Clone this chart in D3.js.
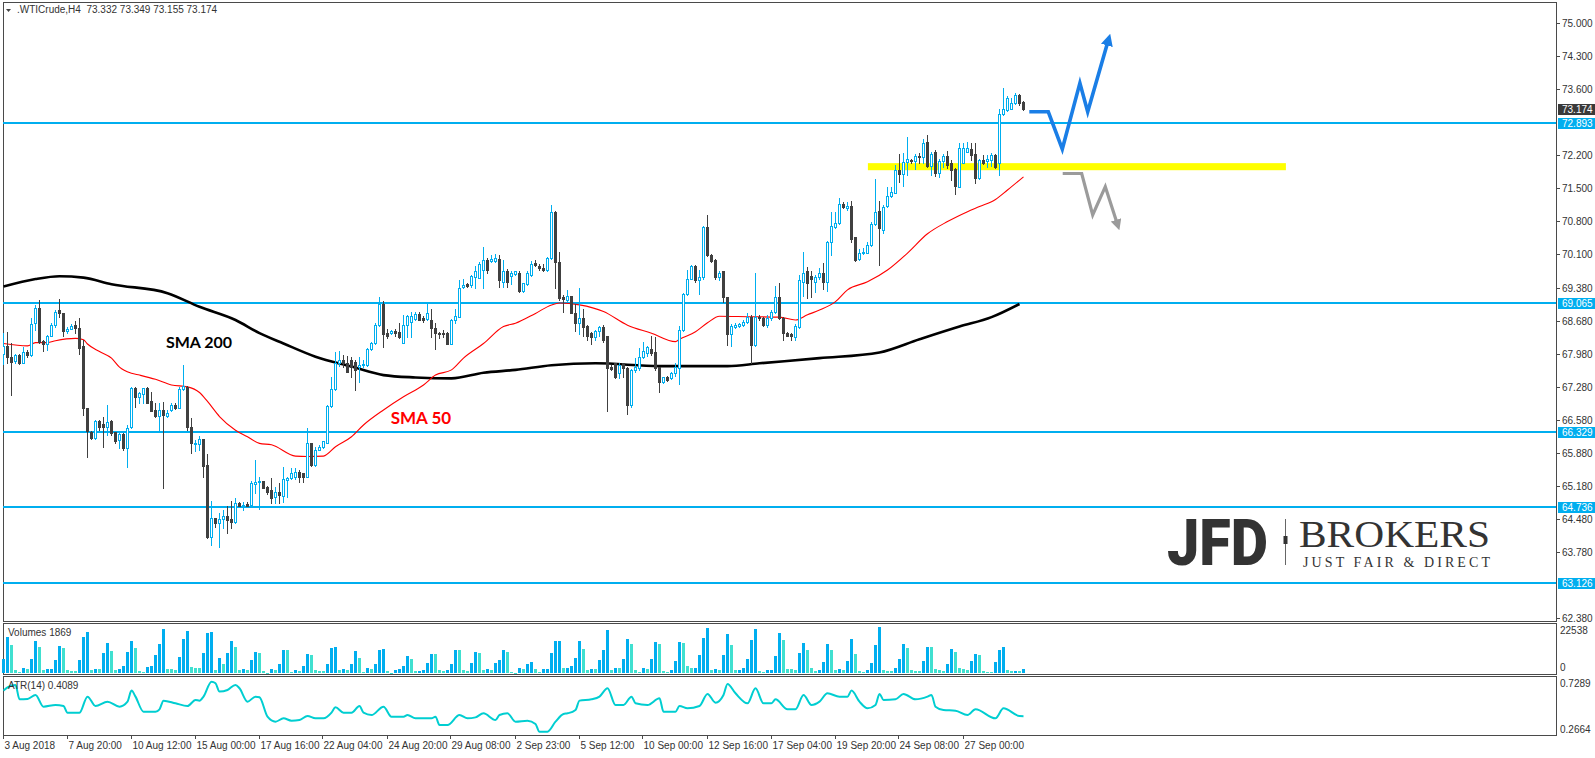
<!DOCTYPE html>
<html>
<head>
<meta charset="utf-8">
<script src="https://cdn.jsdelivr.net/npm/d3@7"></script>
<style>
  html, body { margin: 0; padding: 0; background: #fff; }
  svg { display: block; }
</style>
</head>
<body>
<svg id="chart" width="1595" height="758" font-family="'Liberation Sans', Arial, sans-serif"></svg>
<script>
// WTI Crude H4, 3 Aug - 28 Sep 2018

const symbol = ".WTICrude,H4";

// one row per H4 bar: open, high, low, close
const ohlc = [
  [67.98,68.42,67.77,68.15],[68.15,68.45,67.79,67.92],[67.92,68.21,67.11,67.81],[67.82,67.98,67.79,67.96],
  [67.96,67.98,67.77,67.79],[67.79,68.13,67.78,68.03],[68.01,68.06,67.92,67.96],[67.96,68.74,67.93,68.61],
  [68.63,69.02,68.49,68.95],[68.95,69.12,68.21,68.24],[68.25,68.28,68.05,68.19],[68.19,68.38,68.06,68.36],
  [68.36,68.64,68.35,68.59],[68.59,68.91,68.56,68.88],[68.91,69.14,68.77,68.84],[68.84,68.85,68.35,68.47],
  [68.47,68.56,68.42,68.51],[68.50,68.61,68.50,68.57],[68.59,68.68,68.42,68.52],[68.52,68.75,67.98,68.11],
  [68.15,68.28,66.68,66.83],[66.84,66.84,65.80,66.34],[66.33,66.35,66.17,66.19],[66.19,66.58,66.17,66.56],
  [66.56,66.58,66.36,66.43],[66.49,66.65,66.01,66.43],[66.43,66.89,66.26,66.54],[66.56,66.58,66.26,66.29],
  [66.33,66.33,66.08,66.12],[66.15,66.29,65.98,66.28],[66.28,66.29,65.94,65.98],[65.98,66.47,65.57,66.40],
  [66.42,67.27,66.40,67.25],[67.25,67.27,66.85,67.06],[67.06,67.17,66.93,67.14],[67.13,67.26,66.93,67.25],
  [67.25,67.27,66.93,66.94],[66.97,67.18,66.77,66.77],[66.79,66.93,66.65,66.66],[66.67,66.93,66.35,66.79],
  [66.79,66.96,65.14,66.68],[66.67,66.79,66.65,66.73],[66.79,66.94,66.77,66.89],[66.89,66.93,66.80,66.84],
  [66.84,67.28,66.83,67.23],[67.23,67.74,67.21,67.30],[67.28,67.30,66.36,66.43],[66.43,66.61,65.87,66.08],
  [66.07,66.15,65.92,66.09],[66.07,66.24,65.95,66.17],[66.17,66.17,65.37,65.60],[65.62,65.85,64.08,64.10],
  [64.10,64.86,63.92,64.50],[64.49,64.49,64.31,64.38],[64.38,64.60,63.89,64.47],[64.47,64.67,64.28,64.54],
  [64.54,64.74,64.18,64.45],[64.48,64.86,64.28,64.42],[64.42,64.91,64.40,64.81],[64.81,64.84,64.74,64.74],
  [64.74,64.84,64.67,64.77],[64.79,64.84,64.74,64.74],[64.77,65.29,64.75,65.23],[65.22,65.73,65.02,65.27],
  [65.25,65.36,64.68,65.28],[65.28,65.28,65.13,65.14],[65.15,65.17,65.01,65.05],[65.10,65.34,64.81,64.91],
  [64.95,65.16,64.81,65.05],[65.05,65.23,64.81,64.98],[64.96,65.57,64.84,65.32],[65.30,65.37,64.95,65.35],
  [65.34,65.55,65.32,65.46],[65.36,65.55,65.32,65.48],[65.48,65.52,65.25,65.36],[65.45,65.46,65.25,65.36],
  [65.37,66.40,65.37,66.09],[66.09,66.09,65.60,65.62],[65.62,66.01,65.60,65.95],[65.95,66.05,65.94,66.01],
  [66.01,66.14,65.98,66.12],[66.09,66.89,66.08,66.87],[66.87,67.50,66.86,67.23],[67.23,68.03,67.21,67.79],
  [67.78,68.04,67.72,67.85],[67.86,67.96,67.71,67.78],[67.78,67.94,67.60,67.60],[67.84,67.92,67.50,67.71],
  [67.81,67.85,67.21,67.64],[67.71,67.92,67.39,67.74],[67.74,67.85,67.71,67.77],[67.74,68.10,67.72,68.08],
  [68.08,68.24,68.06,68.21],[68.21,68.63,68.19,68.59],[68.59,69.18,68.57,69.05],[69.05,69.11,68.12,68.40],
  [68.42,68.50,68.31,68.37],[68.42,68.49,68.40,68.47],[68.47,68.50,68.36,68.42],[68.45,68.63,68.31,68.33],
  [68.22,68.81,68.21,68.59],[68.59,68.81,68.34,68.78],[68.66,68.88,68.34,68.78],[68.72,68.88,68.70,68.83],
  [68.83,68.88,68.69,68.70],[68.74,68.78,68.66,68.69],[68.72,69.05,68.70,68.85],[68.69,68.93,68.34,68.54],
  [68.54,68.63,68.08,68.42],[68.43,68.45,68.31,68.40],[68.43,68.49,68.34,68.40],[68.43,68.45,68.18,68.19],
  [68.19,68.72,68.18,68.69],[68.69,68.93,68.63,68.78],[68.77,69.55,68.76,69.37],[69.39,69.56,69.37,69.44],
  [69.46,69.49,69.41,69.42],[69.44,69.66,69.41,69.63],[69.61,69.85,69.37,69.75],[69.60,69.93,69.59,69.89],
  [69.76,70.26,69.37,69.97],[69.97,70.01,69.69,69.76],[69.96,70.08,69.94,69.99],[69.96,70.10,69.94,70.01],
  [69.99,70.08,69.39,69.55],[69.51,69.97,69.41,69.75],[69.75,69.78,69.39,69.51],[69.63,69.73,69.46,69.69],
  [69.68,69.75,69.66,69.73],[69.69,69.73,69.30,69.32],[69.32,69.49,69.30,69.48],[69.46,69.75,69.44,69.69],
  [69.66,69.96,69.63,69.89],[69.92,69.97,69.85,69.87],[69.85,69.89,69.76,69.80],[69.80,69.89,69.73,69.76],
  [69.76,70.04,69.75,70.01],[70.01,71.14,69.99,71.00],[71.00,71.02,69.37,69.94],[69.94,70.15,69.12,69.16],
  [69.18,69.23,68.88,69.14],[69.12,69.34,69.11,69.21],[69.21,69.21,68.84,68.85],[68.85,69.05,68.47,68.64],
  [68.64,69.37,68.40,68.74],[68.74,68.93,68.36,68.56],[68.57,68.59,68.28,68.35],[68.42,68.45,68.19,68.33],
  [68.33,68.49,68.28,68.47],[68.47,68.57,68.35,68.56],[68.56,68.59,68.24,68.28],[68.36,68.36,66.77,67.67],
  [67.71,67.74,67.64,67.66],[67.78,67.79,67.46,67.50],[67.57,67.78,67.46,67.74],[67.78,67.79,67.48,67.67],
  [67.67,67.70,66.70,66.89],[66.89,67.66,66.86,67.64],[67.64,67.89,67.60,67.70],[67.67,68.10,67.64,67.92],
  [67.91,68.24,67.89,68.05],[67.99,68.15,67.93,68.12],[68.08,68.36,67.96,67.99],[68.01,68.33,67.64,67.67],
  [67.70,67.70,67.18,67.39],[67.39,67.50,67.37,67.48],[67.48,67.51,67.41,67.43],[67.46,67.60,67.44,67.58],
  [67.57,67.79,67.51,67.70],[67.67,68.57,67.34,68.49],[68.49,69.27,68.47,69.25],[69.25,69.76,69.23,69.58],
  [69.58,69.87,69.56,69.85],[69.85,69.87,69.51,69.54],[69.54,69.76,69.25,69.61],[69.61,70.70,69.58,70.68],
  [70.68,70.93,70.06,70.08],[70.08,70.10,69.94,69.96],[69.97,69.99,69.58,69.61],[69.62,69.73,69.55,69.69],
  [69.73,69.73,69.09,69.18],[69.18,69.19,68.17,68.40],[68.40,68.61,68.14,68.57],[68.56,68.64,68.54,68.59],
  [68.57,68.64,68.56,68.61],[68.59,68.69,68.57,68.66],[68.66,68.84,68.63,68.77],[68.77,68.81,67.78,68.17],
  [68.17,69.70,68.15,68.76],[68.77,68.81,68.70,68.74],[68.74,68.77,68.57,68.59],[68.59,68.81,68.56,68.74],
  [68.74,68.91,68.69,68.88],[68.88,69.42,68.85,69.18],[69.18,69.48,68.72,68.74],[68.74,68.77,68.28,68.43],
  [68.43,68.45,68.35,68.36],[68.40,68.42,68.28,68.35],[68.33,68.61,68.28,68.57],[68.56,69.66,68.54,69.54],
  [69.51,70.15,69.21,69.70],[69.73,69.82,69.16,69.49],[69.63,69.73,69.19,69.58],[69.51,69.66,69.30,69.62],
  [69.61,69.80,69.58,69.70],[69.70,69.92,69.35,69.51],[69.51,70.38,69.32,70.36],[70.36,71.00,70.08,70.70],
  [70.68,71.00,70.66,70.75],[70.75,71.28,70.74,71.16],[71.16,71.21,71.07,71.09],[71.08,71.21,71.04,71.12],
  [71.12,71.23,70.36,70.43],[70.46,70.47,69.96,69.97],[69.99,70.20,69.97,70.13],[70.12,70.22,70.10,70.15],
  [70.13,70.36,70.12,70.30],[70.30,70.79,70.27,70.74],[70.74,71.69,70.72,71.00],[71.01,71.23,69.87,70.65],
  [70.62,71.14,70.55,71.09],[71.11,71.52,71.09,71.33],[71.33,71.53,71.32,71.42],[71.40,71.99,71.39,71.88],
  [71.88,72.22,71.64,71.81],[71.81,72.24,71.54,72.06],[72.06,72.58,71.78,72.11],[72.10,72.11,72.04,72.08],
  [72.08,72.22,71.90,72.18],[72.18,72.25,72.03,72.15],[72.15,72.54,72.03,72.46],[72.48,72.63,71.94,71.97],
  [71.97,72.27,71.78,72.22],[72.27,72.31,71.76,71.83],[71.83,72.11,71.74,72.08],[72.08,72.22,71.94,72.18],
  [72.18,72.29,71.92,71.99],[72.03,72.10,71.67,71.88],[71.90,71.92,71.37,71.54],[71.53,72.45,71.52,72.35],
  [72.04,72.46,72.03,72.35],[72.27,72.48,72.26,72.35],[72.34,72.46,72.10,72.20],[72.22,72.46,71.60,71.71],
  [71.71,72.11,71.69,72.10],[72.10,72.20,72.01,72.03],[72.08,72.20,71.94,72.11],[72.10,72.24,71.97,72.20],
  [72.20,72.22,71.92,71.94],[72.04,73.19,71.78,73.07],[73.07,73.62,73.05,73.19],[73.16,73.46,73.14,73.41],
  [73.19,73.41,73.17,73.31],[73.31,73.53,73.29,73.48],[73.48,73.50,73.26,73.31],[73.332,73.349,73.155,73.174]
];

// tick volume per bar
const volumes = [
  7000,17300,13500,1300,500,2300,1800,7000,15500,12600,1300,1800,2100,6500,13000,12100,
  1300,1200,1100,6200,17400,19900,1300,1800,1700,9800,14500,10600,1300,1800,3300,10100,
  15500,12100,1000,500,2800,3300,8600,14000,21400,1800,1700,1600,7700,16500,20400,2800,
  2300,2200,9800,19400,19900,1300,7200,4400,9800,15500,12600,1300,1800,1300,6200,10100,
  9500,800,100,1800,1300,4200,11100,11000,500,1300,1200,3300,9100,8600,1300,1200,
  1100,4600,12100,12600,1300,1800,1300,4200,10600,7200,700,2300,1800,4200,11100,11600,
  800,100,1300,1800,3300,8200,6700,800,900,1300,4700,9100,9000,1300,800,1300,
  4200,11100,11000,1300,1200,4700,10100,9600,1300,1800,1300,4700,6200,11100,10100,500,
  100,2300,1800,4200,5200,1800,300,1800,1900,9600,15500,15600,2300,2400,3300,7200,
  15500,11600,1300,1800,1700,6200,11100,20900,1300,2300,2200,6700,16500,14000,1300,300,
  2300,1800,6700,15000,14000,800,700,1300,5700,15000,14500,3300,2300,2400,8600,17000,
  21800,1300,1800,1300,8600,18900,13500,1300,1400,2300,6700,16000,21400,800,300,1300,
  1400,8200,19400,16000,1800,1700,1600,9600,14500,11100,2300,800,1300,5200,14000,11100,
  1300,1800,1300,5700,16500,9100,800,700,1300,4700,13500,22300,1300,1200,1100,2300,
  6700,14000,12100,1300,1200,1100,5700,12600,12500,1800,1300,1200,4200,11600,10100,2300,
  1800,1300,5700,9100,8600,800,700,600,5200,11100,12600,1300,800,900,800,1869
];

// ATR(14) readings: [bar, value]
const atr = [
  [0,0.638],[1,0.668],[3,0.689],[4,0.560],[6,0.563],[8,0.599],[10,0.494],[13,0.509],[15,0.500],
  [16,0.440],[19,0.440],[21,0.584],[23,0.500],[26,0.539],[29,0.494],[31,0.539],[32,0.638],[33,0.584],
  [35,0.449],[38,0.449],[39,0.470],[40,0.548],[43,0.524],[46,0.500],[48,0.554],[49,0.548],[50,0.584],
  [52,0.718],[53,0.704],[54,0.629],[56,0.644],[58,0.689],[59,0.659],[61,0.539],[63,0.584],[64,0.578],
  [66,0.404],[68,0.359],[70,0.389],[72,0.368],[74,0.374],[76,0.410],[78,0.389],[80,0.389],[82,0.440],
  [83,0.488],[85,0.440],[87,0.440],[89,0.500],[90,0.440],[92,0.419],[95,0.494],[97,0.404],[100,0.404],
  [101,0.419],[103,0.389],[107,0.389],[108,0.404],[109,0.329],[111,0.329],[114,0.419],[116,0.389],
  [118,0.398],[120,0.434],[123,0.374],[124,0.419],[126,0.434],[128,0.359],[131,0.368],[133,0.338],
  [134,0.269],[136,0.269],[138,0.359],[140,0.428],[141,0.434],[143,0.464],[144,0.548],[147,0.560],
  [149,0.584],[151,0.659],[153,0.509],[155,0.509],[157,0.584],[158,0.524],[161,0.509],[164,0.569],
  [165,0.449],[168,0.449],[169,0.500],[171,0.479],[174,0.500],[176,0.608],[178,0.530],[180,0.599],
  [181,0.698],[183,0.614],[186,0.524],[188,0.659],[190,0.524],[192,0.524],[193,0.560],[196,0.470],
  [198,0.470],[200,0.599],[202,0.509],[204,0.539],[206,0.614],[209,0.584],[211,0.584],[212,0.638],
  [214,0.539],[216,0.479],[218,0.509],[219,0.608],[220,0.554],[223,0.560],[225,0.608],[228,0.560],
  [231,0.584],[232,0.599],[233,0.494],[235,0.464],[238,0.458],[241,0.419],[243,0.470],[248,0.389],
  [250,0.479],[254,0.410],[255,0.4089]
];

// moving averages: [bar, price]
const sma50 = [
  [0,68.20],[6,68.15],[8,68.22],[11,68.22],[13,68.26],[18,68.31],[20,68.28],[21,68.19],[24,68.03],
  [27,67.89],[29,67.70],[32,67.57],[34,67.53],[38,67.44],[42,67.32],[46,67.28],[49,67.16],[51,66.97],
  [54,66.65],[58,66.36],[61,66.22],[64,66.08],[67,66.05],[73,65.81],[76,65.80],[80,65.81],[83,66.01],
  [87,66.22],[90,66.47],[95,66.79],[100,67.07],[105,67.32],[108,67.53],[112,67.64],[115,67.89],
  [120,68.20],[125,68.56],[128,68.63],[133,68.84],[137,69.02],[139,69.06],[144,69.02],[150,68.88],
  [156,68.59],[162,68.42],[168,68.24],[169,68.29],[173,68.45],[176,68.64],[179,68.78],[186,68.77],
  [194,68.76],[198,68.70],[201,68.81],[204,68.91],[208,69.09],[211,69.34],[216,69.51],[221,69.76],
  [226,70.12],[231,70.53],[236,70.79],[241,71.00],[244,71.11],[248,71.26],[251,71.46],[255,71.74]
];
const sma200 = [
  [0,69.41],[8,69.57],[14,69.63],[20,69.60],[27,69.46],[41,69.27],[49,68.98],[58,68.70],[64,68.42],
  [70,68.20],[78,67.92],[87,67.71],[95,67.53],[103,67.48],[112,67.46],[120,67.58],[128,67.64],
  [137,67.74],[148,67.78],[164,67.72],[181,67.72],[189,67.78],[204,67.89],[219,68.01],[229,68.29],
  [239,68.56],[247,68.76],[254,69.04]
];

// horizontal support / resistance levels
const levels = [72.893, 69.065, 66.329, 64.736, 63.126];

// price axis labels as printed by the terminal
const priceTicks = ["75.000","74.300","73.600","72.200","71.500","70.800","70.100","69.380",
  "68.680","67.980","67.280","66.580","65.880","65.180","64.480","63.780","62.380"];

// time axis: label every 16 bars
const dateTicks = [0,16,32,48,64,80,96,112,128,144,160,176,192,208,224,240];
const dateLabels = ["3 Aug 2018","7 Aug 20:00","10 Aug 12:00","15 Aug 00:00","17 Aug 16:00",
  "22 Aug 04:00","24 Aug 20:00","29 Aug 08:00","2 Sep 23:00","5 Sep 12:00","10 Sep 00:00",
  "12 Sep 16:00","17 Sep 04:00","19 Sep 20:00","24 Sep 08:00","27 Sep 00:00"];

// drawn scenarios: [bar, price]
const zone = { bars: [216.1, 320.6], prices: [71.88, 72.03] };
const bullPath = [[256.45,73.12],[261.2,73.12],[264.7,72.33],[269.1,73.73],[271.05,73.12],[276,74.58]];
const bearPath = [[264.8,71.81],[269.55,71.81],[272.3,70.93],[275.45,71.53],[278.3,70.78]];

// ---------------------------------------------------------------
const svg = d3.select("#chart");
const W = 1595;
const left = 3, right = 1556;
const main = { top: 2, bottom: 621 };
const volP = { top: 623, bottom: 674 };
const atrP = { top: 676, bottom: 735 };

const blue = "#00aeef", dark = "#404040", turq = "#40e0d0";

const x = d3.scaleLinear().domain([0, 255]).range([3.5, 3.5 + 4 * 255]);
const y = d3.scaleLinear().domain([62.33, 75.494]).range([620, 0]);
const yVol = d3.scaleLinear().domain([0, 22538]).range([673, 626.5]);
const yAtr = d3.scaleLinear().domain([0.2664, 0.7289]).range([732, 680.5]);
const Y = v => Math.round(y(v));

const defs = svg.append("defs");
defs.append("clipPath").attr("id", "clipMain").append("rect")
  .attr("x", left).attr("y", main.top).attr("width", right - left).attr("height", main.bottom - main.top);
function arrowHead(id, color) {
  defs.append("marker").attr("id", id)
    .attr("viewBox", "0 0 10 10").attr("refX", 2).attr("refY", 5)
    .attr("markerWidth", 3.4).attr("markerHeight", 3.4).attr("orient", "auto")
    .append("path").attr("d", "M0,0 L10,5 L0,10 Z").attr("fill", color);
}
arrowHead("headBlue", "#1a7ee6");
arrowHead("headGray", "#9b9b9b");

// panel frames
[[main.top, main.bottom], [volP.top, volP.bottom], [atrP.top, atrP.bottom]].forEach(([t, b]) => {
  svg.append("rect").attr("x", left + 0.5).attr("y", t + 0.5)
    .attr("width", right - left).attr("height", b - t)
    .attr("fill", "none").attr("stroke", "#4a4a4a").attr("stroke-width", 1);
});

// header
svg.append("path").attr("d", "M6,9 L11,9 L8.5,12 Z").attr("fill", "#444");
svg.append("text").attr("x", 17).attr("y", 13).attr("font-size", 10).attr("fill", "#333")
  .attr("xml:space", "preserve")
  .text(symbol + "  " + ohlc[255].map(v => v.toFixed(3)).join(" "));

const g = svg.append("g").attr("clip-path", "url(#clipMain)");

// JFD BROKERS watermark
const logo = svg.append("g");
logo.append("text").attr("x", 1167).attr("y", 565).attr("font-family", "Roboto, 'Liberation Sans', sans-serif")
  .attr("font-weight", 900).attr("font-size", 65).attr("fill", "#333")
  .attr("textLength", 101).attr("lengthAdjust", "spacingAndGlyphs").text("JFD");
logo.append("line").attr("x1", 1285.5).attr("x2", 1285.5).attr("y1", 519).attr("y2", 565)
  .attr("stroke", "#666").attr("stroke-width", 1);
logo.append("rect").attr("x", 1283.5).attr("y", 536).attr("width", 4).attr("height", 8).attr("fill", "#333");
logo.append("text").attr("x", 1299).attr("y", 547).attr("font-family", "'Liberation Serif', 'DejaVu Serif', serif")
  .attr("font-size", 38).attr("fill", "#333")
  .attr("textLength", 191).attr("lengthAdjust", "spacingAndGlyphs").text("BROKERS");
logo.append("text").attr("x", 1303).attr("y", 567).attr("font-family", "'Liberation Serif', 'DejaVu Serif', serif")
  .attr("font-size", 14).attr("fill", "#333")
  .attr("textLength", 187).attr("lengthAdjust", "spacing").text("JUST FAIR & DIRECT");

// yellow zone
g.append("rect")
  .attr("x", x(zone.bars[0])).attr("width", x(zone.bars[1]) - x(zone.bars[0]))
  .attr("y", y(zone.prices[1])).attr("height", y(zone.prices[0]) - y(zone.prices[1]))
  .attr("fill", "#ffff00");

// level lines
g.selectAll(".lvl").data(levels).enter().append("line")
  .attr("x1", left).attr("x2", right)
  .attr("y1", d => Y(d)).attr("y2", d => Y(d))
  .attr("stroke", blue).attr("stroke-width", 2);

// moving averages
const maLine = d3.line().x(d => x(d[0])).y(d => y(d[1])).curve(d3.curveMonotoneX);
g.append("path").attr("d", maLine(sma200)).attr("fill", "none").attr("stroke", "#000").attr("stroke-width", 2.6);
g.append("path").attr("d", maLine(sma50)).attr("fill", "none").attr("stroke", "#ff0000").attr("stroke-width", 1.1);

// candles
const candles = g.append("g").attr("shape-rendering", "crispEdges");
ohlc.forEach((d, i) => {
  const [o, h, l, c] = d;
  const bull = c >= o;
  const xc = x(i);
  candles.append("line").attr("x1", xc).attr("x2", xc)
    .attr("y1", Y(h)).attr("y2", Y(l) + 1)
    .attr("stroke", bull ? blue : dark).attr("stroke-width", 1);
  const top = Y(Math.max(o, c)), bot = Y(Math.min(o, c));
  if (bull) {
    candles.append("rect").attr("x", xc - 1).attr("y", top + 0.5)
      .attr("width", 2).attr("height", Math.max(bot - top, 1))
      .attr("fill", "#fff").attr("stroke", blue).attr("stroke-width", 1);
  } else {
    candles.append("rect").attr("x", xc - 1.5).attr("y", top)
      .attr("width", 3).attr("height", Math.max(bot - top, 1) + 1)
      .attr("fill", dark);
  }
});

// scenario arrows
const arrowLine = d3.line().x(d => x(d[0])).y(d => y(d[1]));
svg.append("path").attr("d", arrowLine(bullPath)).attr("fill", "none")
  .attr("stroke", "#1a7ee6").attr("stroke-width", 3.6).attr("stroke-linejoin", "miter")
  .attr("marker-end", "url(#headBlue)");
svg.append("path").attr("d", arrowLine(bearPath)).attr("fill", "none")
  .attr("stroke", "#9b9b9b").attr("stroke-width", 3.2).attr("stroke-linejoin", "miter")
  .attr("marker-end", "url(#headGray)");

// SMA labels
svg.append("text").attr("x", x(40.6)).attr("y", y(68.10))
  .attr("font-family", "Lato, sans-serif").attr("font-weight", 700).attr("font-size", 16)
  .attr("fill", "#000").text("SMA 200");
svg.append("text").attr("x", x(96.8)).attr("y", y(66.49))
  .attr("font-family", "Lato, sans-serif").attr("font-weight", 700).attr("font-size", 17)
  .attr("fill", "#ff0000").text("SMA 50");

// price axis
const axis = svg.append("g").attr("font-size", 10).attr("fill", "#333");
priceTicks.forEach(t => {
  const yy = Y(+t) + 0.5;
  axis.append("line").attr("x1", right).attr("x2", right + 4).attr("y1", yy).attr("y2", yy)
    .attr("stroke", "#4a4a4a");
  axis.append("text").attr("x", right + 6).attr("y", yy + 3.5).text(t);
});
levels.forEach(v => {
  const yy = Y(v);
  axis.append("rect").attr("x", right + 2).attr("y", yy - 5).attr("width", W - right - 2).attr("height", 11)
    .attr("fill", blue);
  axis.append("text").attr("x", right + 6).attr("y", yy + 4).attr("fill", "#fff").text(v.toFixed(3));
});
{
  const last = ohlc[ohlc.length - 1][3];
  const yy = Y(last);
  axis.append("rect").attr("x", right + 2).attr("y", yy - 5).attr("width", W - right - 2).attr("height", 11)
    .attr("fill", "#3a3a3a");
  axis.append("text").attr("x", right + 6).attr("y", yy + 4).attr("fill", "#fff").text(last.toFixed(3));
}

// volumes
const vg = svg.append("g").attr("shape-rendering", "crispEdges");
vg.selectAll("rect").data(volumes).enter().append("rect")
  .attr("x", (d, i) => x(i) - 1.5).attr("width", 3)
  .attr("y", d => Math.round(yVol(d)))
  .attr("height", d => Math.max(673 - Math.round(yVol(d)), 1))
  .attr("fill", (d, i) => (i === 0 || d >= volumes[i - 1]) ? blue : turq);
svg.append("text").attr("x", 8).attr("y", 636).attr("font-size", 10).attr("fill", "#333")
  .text("Volumes " + volumes[volumes.length - 1]);
axis.append("text").attr("x", right + 4).attr("y", 634).text("22538");
axis.append("text").attr("x", right + 4).attr("y", 671).text("0");

// ATR
const atrLine = d3.line().x(d => x(d[0])).y(d => yAtr(d[1])).curve(d3.curveMonotoneX);
svg.append("path").attr("d", atrLine(atr)).attr("fill", "none")
  .attr("stroke", "#00ced1").attr("stroke-width", 2);
svg.append("text").attr("x", 8).attr("y", 689).attr("font-size", 10).attr("fill", "#333")
  .text("ATR(14) " + atr[atr.length - 1][1].toFixed(4));
axis.append("text").attr("x", right + 4).attr("y", 687).text("0.7289");
axis.append("text").attr("x", right + 4).attr("y", 733).text("0.2664");

// time axis
dateTicks.forEach((b, k) => {
  const xx = Math.round(x(b)) - 0.5;
  axis.append("line").attr("x1", xx).attr("x2", xx).attr("y1", atrP.bottom).attr("y2", atrP.bottom + 4)
    .attr("stroke", "#4a4a4a");
  axis.append("text").attr("x", xx + 1).attr("y", 749).text(dateLabels[k]);
});
</script>
</body>
</html>
